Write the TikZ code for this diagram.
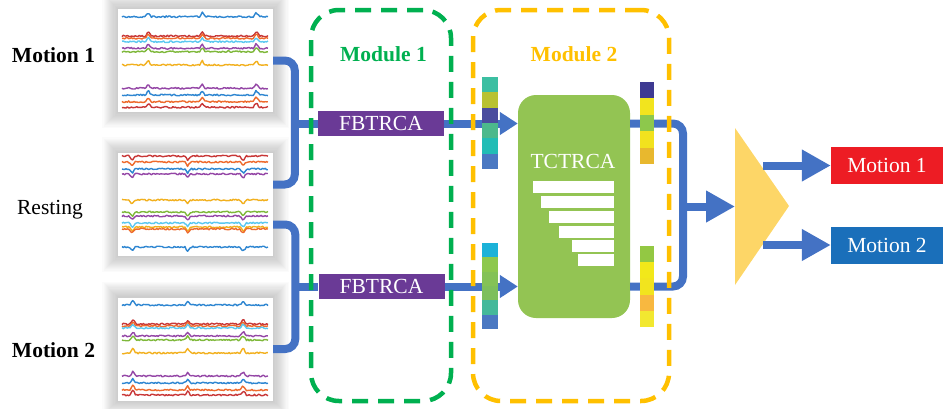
\documentclass[tikz,border=0pt]{standalone}
\usepackage{fontspec}
\setmainfont{Liberation Serif}
\usetikzlibrary{arrows.meta,calc,backgrounds}
\definecolor{cblue}{HTML}{4472C4}
\definecolor{cpurple}{HTML}{6A3A96}
\definecolor{cgreenbox}{HTML}{93C453}
\definecolor{cmodg}{HTML}{00B050}
\definecolor{cmodo}{HTML}{FFC000}
\definecolor{ctri}{HTML}{FDD667}
\definecolor{cred}{HTML}{ED1C24}
\definecolor{cres2}{HTML}{1A6FBA}
\definecolor{sblue}{HTML}{2E86D1}
\definecolor{sred}{HTML}{C83737}
\definecolor{sorange}{HTML}{EE6A2C}
\definecolor{slblue}{HTML}{5BC8F0}
\definecolor{spurple}{HTML}{9446A6}
\definecolor{sgreen}{HTML}{7EB83A}
\definecolor{syellow}{HTML}{F2B01E}
% bar cells
\definecolor{a1}{HTML}{3CBFA2}\definecolor{a2}{HTML}{B9C232}\definecolor{a3}{HTML}{4A4C9E}
\definecolor{a4}{HTML}{4CB98C}\definecolor{a5}{HTML}{22BDB5}\definecolor{a6}{HTML}{4A78C2}
\definecolor{b1}{HTML}{1BB2D8}\definecolor{b2}{HTML}{8DC84C}\definecolor{b3}{HTML}{84C256}
\definecolor{b4}{HTML}{7DBF5B}\definecolor{b5}{HTML}{44B99A}\definecolor{b6}{HTML}{4A78C2}
\definecolor{c1}{HTML}{3E3A92}\definecolor{c2}{HTML}{F2E41E}\definecolor{c3}{HTML}{8DC84C}
\definecolor{c4}{HTML}{F2E21E}\definecolor{c5}{HTML}{E8B82E}
\definecolor{d1}{HTML}{93C843}\definecolor{d2}{HTML}{F2E81A}\definecolor{d3}{HTML}{F2E41E}
\definecolor{d4}{HTML}{F8B840}\definecolor{d5}{HTML}{F2E830}
\newcommand\dfont{\fontsize{21.5}{25}\selectfont}
\newcommand\sigl[2]{\draw[line width=1.4pt,#2,line join=round] plot[domain=0:1,samples=110] ({\sx+\x*146},{#1+0.8*rand-\sd*(4.5*max(0,1-abs(\x-\sa)/0.02)+4*max(0,1-abs(\x-\sb)/0.02)+4.5*max(0,1-abs(\x-\sc)/0.022))});}
\newcommand\pshadow[1]{\foreach \i in {1,...,14}{\fill[black,opacity=0.016] ($(#1.south west)+(-1.1*\i,1.1*\i)$) rectangle ($(#1.north east)+(1.1*\i,-1.1*\i)$);}}
\tikzset{
  conn/.style={line width=8pt, draw=cblue, rounded corners=10pt},
  tipS/.style={-{Triangle[length=18pt,width=22pt]}},
  tipL/.style={-{Triangle[length=29pt,width=30pt]}},
  panel/.style={fill=white, minimum width=155pt, minimum height=103pt, inner sep=0pt},
  fbox/.style={fill=cpurple, text=white, minimum width=126pt, minimum height=25pt, inner sep=0pt, font=\dfont},
  tbox/.style={fill=cgreenbox, minimum width=112pt, minimum height=223pt, rounded corners=18pt, inner sep=0pt},
  resbox/.style={text=white, minimum width=112pt, minimum height=37pt, inner sep=0pt, font=\dfont},
  modbox/.style={line width=4.5pt, dash pattern=on 16pt off 10pt, rounded corners=28pt, inner sep=0pt},
  lbl/.style={font=\dfont, inner sep=0pt, anchor=base},
}
\begin{document}
\begin{tikzpicture}[x=1pt,y=-1pt]
\useasboundingbox (0,0) rectangle (943,408);
\pgfmathsetseed{7}
% panels
\node[panel] (p1) at (195.5,60.5) {};
\node[panel] (p2) at (195.5,204.5) {};
\node[panel] (p3) at (195.5,349) {};
\begin{scope}[on background layer]
\pshadow{p1}\pshadow{p2}\pshadow{p3}
\end{scope}
% panel 1 signals
\def\sx{122}\def\sd{1}\def\sa{0.18}\def\sb{0.55}\def\sc{0.92}
\sigl{16.7}{sblue}\sigl{36}{sred}\sigl{38.3}{sorange}\sigl{41.7}{slblue}
\sigl{48.3}{spurple}\sigl{51.7}{sgreen}\sigl{65}{syellow}\sigl{88.3}{spurple}
\sigl{95}{sblue}\sigl{101.7}{sorange}\sigl{107.3}{sred}
% panel 2 signals
\def\sd{-1}\def\sa{0.07}\def\sb{0.45}\def\sc{0.83}
\sigl{156}{sred}\sigl{162}{sorange}\sigl{169}{sblue}\sigl{174}{spurple}
\sigl{200}{syellow}\sigl{212}{sgreen}\sigl{216}{spurple}\sigl{223}{slblue}
\sigl{227}{syellow}\sigl{229}{sorange}\sigl{247}{sblue}
% panel 3 signals
\def\sd{1}\def\sa{0.075}\def\sb{0.45}\def\sc{0.83}
\sigl{305}{sblue}\sigl{324}{sred}\sigl{326}{sorange}\sigl{328}{slblue}
\sigl{336}{spurple}\sigl{340}{sgreen}\sigl{353}{syellow}\sigl{376}{spurple}
\sigl{383}{sblue}\sigl{390}{sorange}\sigl{395}{sred}
% left labels
\node[lbl,font=\dfont\bfseries] (l1) at (53.5,62) {Motion 1};
\node[lbl] (l2) at (50,214) {Resting};
\node[lbl,font=\dfont\bfseries] (l3) at (53.5,357) {Motion 2};
% main blocks
\node[fbox] (f1) at (381,123.5) {FBTRCA};
\node[fbox] (f2) at (381.5,286.5) {FBTRCA};
\node[tbox] (t) at (574,206.5) {};
\fill[ctri] (735,128) -- (789,206) -- (735,285) -- cycle;
\coordinate (trl) at (735,206.5);
\coordinate (tru) at (763,165.5);
\coordinate (trd) at (763,245);
\node[resbox,fill=cred] (r1) at (887,165.5) {Motion 1};
\node[resbox,fill=cres2] (r2) at (887,245) {Motion 2};
% connectors
\coordinate (jl1) at ($(f1.west)+(-23,0)$);
\coordinate (jl2) at ($(f2.west)+(-23,0)$);
\draw[conn] (p1.east) -| (jl1) |- ($(p2.east)+(0,-20)$);
\draw[conn] (jl1) -- (f1.west);
\draw[conn] ($(p2.east)+(0,20)$) -| (jl2) |- (p3.east);
\draw[conn] (jl2) -- (f2.west);
\draw[conn,tipS] (f1.east) -- (t.west |- f1.east);
\draw[conn,tipS] (f2.east) -- (t.west |- f2.east);
\coordinate (jr) at (683,206.5);
\draw[conn] (t.east |- f1.east) -| (jr) |- (t.east |- f2.east);
\draw[conn,tipL] (jr) -- (trl);
\draw[conn,tipL] (tru) -- (r1.west);
\draw[conn,tipL] (trd) -- (r2.west);
% modules
\node[modbox,draw=cmodg,minimum width=140pt,minimum height=391pt] (m1) at (381,205.5) {};
\node[modbox,draw=cmodo,minimum width=196pt,minimum height=391pt] (m2) at (571,205.5) {};
\node[lbl,font=\dfont\bfseries,text=cmodg] (m1l) at (383.5,61) {Module 1};
\node[lbl,font=\dfont\bfseries,text=cmodo] (m2l) at (574,61) {Module 2};
% color bars
\foreach \c [count=\i from 0] in {a1,a2,a3,a4,a5,a6}
  \fill[\c] (482,77+\i*15.33) rectangle ++(16,15.33);
\foreach \c [count=\i from 0] in {b1,b2,b3,b4,b5,b6}
  \fill[\c] (482,243+\i*14.33) rectangle ++(16,14.33);
\foreach \c [count=\i from 0] in {c1,c2,c3,c4,c5}
  \fill[\c] (640,82+\i*16.4) rectangle ++(14,16.4);
\foreach \c [count=\i from 0] in {d1,d2,d3,d4,d5}
  \fill[\c] (640,246+\i*16.2) rectangle ++(14,16.2);
% TCTRCA text and staircase
\node[lbl,text=white] (tl) at (573,168) {TCTRCA};
\foreach \l/\tp in {533/181,541/195.7,548.7/210.7,558.7/225.7,571.7/240,577.7/254.3}
  \fill[white] (\l,\tp) rectangle (614,\tp+11.8);
\end{tikzpicture}
\end{document}
